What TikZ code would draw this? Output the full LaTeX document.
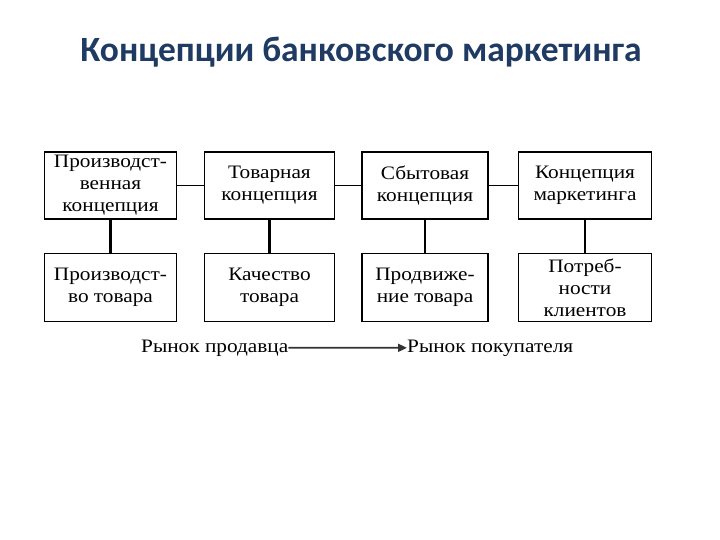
\documentclass[tikz,border=0pt]{standalone}
\usepackage{fontspec}
\setmainfont{Liberation Serif}[FakeStretch=1.12]
\newfontfamily\titlefont{Carlito}
\usetikzlibrary{arrows.meta}
\definecolor{titleblue}{HTML}{1F3B63}
\tikzset{
  box/.style={draw=black, line width=1.6pt, fill=white, inner sep=0pt, align=center,
    font=\fontsize{19}{22}\selectfont},
  hlink/.style={line width=1.1pt},
  vlink/.style={line width=2.4pt},
  lbl/.style={inner sep=0pt, font=\fontsize{19}{22}\selectfont},
}
\begin{document}
\begin{tikzpicture}[x=1pt,y=-1pt]
\useasboundingbox (0,0) rectangle (720,540);
\node[font=\titlefont\bfseries\fontsize{35.5}{40}\selectfont, text=titleblue, anchor=base] (title) at (361,62) {Концепции банковского маркетинга};
% top row
\node[box, minimum width=132pt, minimum height=67pt] (t1) at (110.5,185.5) {Производст-\\венная\\концепция};
\node[box, minimum width=130pt, minimum height=67pt] (t2) at (269.5,185.5) {Товарная\\концепция};
\node[box, minimum width=126pt, minimum height=67pt] (t3) at (425,185.5) {Сбытовая\\концепция};
\node[box, minimum width=133pt, minimum height=67pt] (t4) at (585,185.5) {Концепция\\маркетинга};
% bottom row
\node[box, minimum width=132pt, minimum height=68pt] (b1) at (110.5,287.5) {Производст-\\во товара};
\node[box, minimum width=130pt, minimum height=68pt] (b2) at (269.5,287.5) {Качество\\товара};
\node[box, minimum width=126pt, minimum height=68pt] (b3) at (425,287.5) {Продвиже-\\ние товара};
\node[box, minimum width=133pt, minimum height=68pt] (b4) at (585,287.5) {Потреб-\\ности\\клиентов};
% connectors
\draw[hlink] (t1) -- (t2);
\draw[hlink] (t2) -- (t3);
\draw[hlink] (t3) -- (t4);
\draw[vlink] (t1) -- (b1);
\draw[vlink] (t2) -- (b2);
\draw[vlink] (t3) -- (b3);
\draw[vlink] (t4) -- (b4);
% market arrow
\node[lbl, anchor=base west] (m1) at (141,352) {Рынок продавца};
\node[lbl, anchor=base west] (m2) at (407,352) {Рынок покупателя};
\draw[line width=1.8pt, draw=black!80, -{Triangle[length=9pt,width=8pt]}] (m1) -- (m2);
\end{tikzpicture}
\end{document}
